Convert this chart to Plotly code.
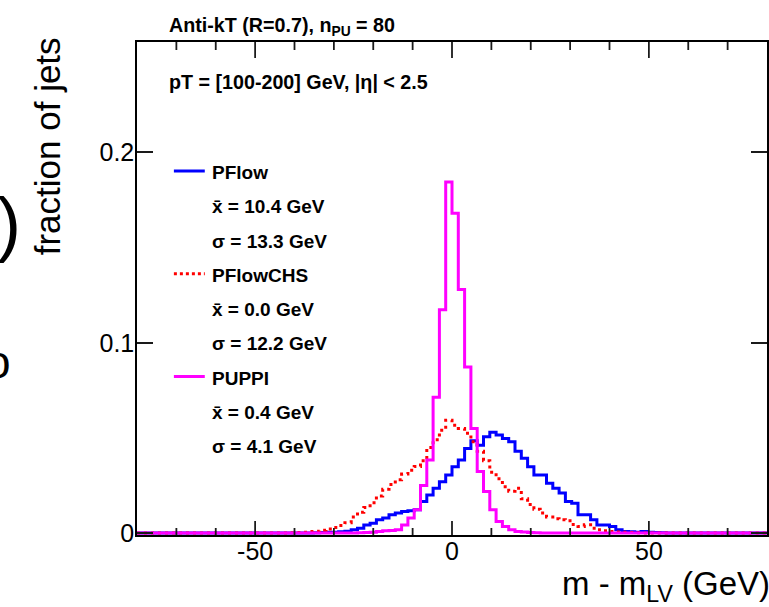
import numpy as np
import plotly.graph_objects as go

# ---------------- data (fraction of jets per 1.6 GeV bin, range -80..80) ----------------
x_lo, x_hi, n_bins = -80.0, 80.0, 100

# index (relative to bin 0 = [0, 1.6]) of the first listed bin, then the values
pflow_first_bin = -22
pflow_vals = [0.0002, 0.0003, 0.0004, 0.0005, 0.0007, 0.0010, 0.0017, 0.0025,
              0.0043, 0.0052, 0.0070, 0.0079, 0.0096, 0.0105, 0.0113, 0.0118, 0.0122,
              0.0166, 0.0200, 0.0236, 0.0270, 0.0305, 0.0349, 0.0384, 0.0445,
              0.0485, 0.0462, 0.0506, 0.0530, 0.0515, 0.0497, 0.0480,
              0.0430, 0.0393, 0.0349, 0.0305, 0.0305, 0.0262, 0.0236, 0.0210, 0.0166, 0.0157,
              0.0096, 0.0096, 0.0070, 0.0043, 0.0043, 0.0035, 0.0017, 0.0009, 0.0007,
              0.0005, 0.0009, 0.0005, 0.0003, 0.0002]

chs_first_bin = -26
chs_vals = [0.0002, 0.0003, 0.0005, 0.0008, 0.0010, 0.0015, 0.0022, 0.0030, 0.0040, 0.0055,
            0.0085, 0.0110, 0.0135, 0.0160, 0.0195, 0.0230, 0.0255, 0.0280, 0.0310, 0.0330,
            0.0350, 0.0380, 0.0450, 0.0490, 0.0540, 0.0593, 0.0567,
            0.0550, 0.0524, 0.0480, 0.0430, 0.0380, 0.0320, 0.0285, 0.0244, 0.0220, 0.0236,
            0.0180, 0.0150, 0.0125, 0.0105, 0.0085, 0.0075, 0.0070, 0.0065, 0.0045, 0.0035,
            0.0044, 0.0026, 0.0017, 0.0012, 0.0009, 0.0006, 0.0004, 0.0003, 0.0002, 0.0001]

puppi_first_bin = -16
puppi_vals = [0.0001, 0.0002, 0.0003, 0.0004, 0.0008, 0.0012, 0.0014, 0.0017,
              0.0043, 0.0079, 0.0122, 0.0250, 0.0384, 0.0714, 0.1174, 0.1845,
              0.1680, 0.1280, 0.0873, 0.0550, 0.0323, 0.0218, 0.0122, 0.0061,
              0.0035, 0.0017, 0.0009, 0.0006, 0.0003, 0.0002, 0.0001]

series_names = ["PFlow", "PFlowCHS", "PUPPI"]
series_means = ["10.4", "0.0", "0.4"]
series_sigmas = ["13.3", "12.2", "4.1"]

x_tick_vals = [-50, 0, 50]
x_tick_text = ["-50", "0", "50"]
x_minor_vals = [-70, -60, -40, -30, -20, -10, 10, 20, 30, 40, 60, 70]
y_tick_vals = [0, 0.1, 0.2]
y_tick_text = ["0", "0.1", "0.2"]
y_minor_vals = [0.02, 0.04, 0.06, 0.08, 0.12, 0.14, 0.16, 0.18, 0.22, 0.24]

# ---------------- helpers ----------------
edges = np.linspace(x_lo, x_hi, n_bins + 1)
y_range = [-0.001, 0.258]


def full_hist(first_bin, vals):
    arr = np.zeros(n_bins)
    start = first_bin + n_bins // 2
    arr[start:start + len(vals)] = vals
    return arr


def step(arr):
    return edges, np.append(arr, arr[-1])


W, H = 769, 607
ML, MR, MT, MB = 137, 0, 42, 72
PW, PH = W - ML - MR, H - MT - MB


def px(x):
    return (x - ML) / PW


def py(y):
    return (H - MB - y) / PH


def x_to_paper(v):
    # linear x axis: data value -> fraction of the plot width
    return (v - x_lo) / (x_hi - x_lo)


FONT = "Liberation Sans, Arial, Helvetica, sans-serif"
colors = ["#0000ff", "#ff0000", "#ff00ff"]
dashes = ["solid", "3px,4px", "solid"]

fig = go.Figure()
for name, (fb, vals), col, dash in zip(
        series_names,
        [(pflow_first_bin, pflow_vals), (chs_first_bin, chs_vals), (puppi_first_bin, puppi_vals)],
        colors, dashes):
    xs, ys = step(full_hist(fb, vals))
    fig.add_trace(go.Scatter(x=xs, y=ys, mode="lines", name=name,
                             line=dict(color=col, width=3, shape="hv", dash=dash),
                             showlegend=False, hoverinfo="skip"))

annotations = []
shapes = []

# header texts
annotations.append(dict(text="<b>Anti-kT (R=0.7), n<sub>PU</sub> = 80</b>", x=px(167), y=py(26),
                        xref="paper", yref="paper", xanchor="left", yanchor="middle",
                        showarrow=False, font=dict(family=FONT, size=19.7, color="black")))
annotations.append(dict(text="<b>pT = [100-200] GeV, |η| &lt; 2.5</b>", x=px(167), y=py(82),
                        xref="paper", yref="paper", xanchor="left", yanchor="middle",
                        showarrow=False, font=dict(family=FONT, size=19.7, color="black")))

# legend-like block
row0, row_step = 172.5, 34.25
for i, name in enumerate(series_names):
    rows = [f"<b>{name}</b>", f"<b>x\u0304 = {series_means[i]} GeV</b>",
            f"<b>σ = {series_sigmas[i]} GeV</b>"]
    for j, t in enumerate(rows):
        yy = row0 + (3 * i + j) * row_step
        annotations.append(dict(text=t, x=px(210), y=py(yy), xref="paper", yref="paper",
                                xanchor="left", yanchor="middle", showarrow=False,
                                font=dict(family=FONT, size=19, color="black")))
    ly = py(row0 - 1.5 + 3 * i * row_step)
    shapes.append(dict(type="line", xref="paper", yref="paper", x0=px(174), x1=px(205),
                       y0=ly, y1=ly, line=dict(color=colors[i], width=3,
                                               dash="dot" if dashes[i] != "solid" else "solid")))

# axis titles
annotations.append(dict(text="fraction of jets", x=px(47), y=py(146), xref="paper", yref="paper",
                        xanchor="center", yanchor="middle", textangle=-90, showarrow=False,
                        font=dict(family=FONT, size=35, color="black")))
annotations.append(dict(text="m - m<sub>LV</sub> (GeV)", x=px(561), y=py(586), xref="paper",
                        yref="paper", xanchor="left", yanchor="middle", showarrow=False,
                        font=dict(family=FONT, size=33, color="black")))

# fragments of the neighbouring panel's text at the left edge
annotations.append(dict(text=")", x=px(-5), y=py(223), xref="paper", yref="paper",
                        xanchor="left", yanchor="middle", showarrow=False,
                        font=dict(family=FONT, size=72, color="black")))
annotations.append(dict(text="o", x=px(-17), y=py(362), xref="paper", yref="paper",
                        xanchor="left", yanchor="middle", showarrow=False,
                        font=dict(family=FONT, size=46, color="black")))

tick_col = "#1a1a1a"

# x-axis tick marks (bottom and mirrored at top), at the axis tick values
for v, lb, lt in [(t, 14, 16) for t in x_tick_vals] + [(t, 7, 8) for t in x_minor_vals]:
    xp = x_to_paper(v)
    for y0, y1 in [(0.0, lb / PH), (1.0, 1.0 - lt / PH)]:
        shapes.append(dict(type="line", xref="paper", yref="paper", x0=xp, x1=xp, y0=y0, y1=y1,
                           line=dict(color=tick_col, width=1.8), layer="above"))

axis_common = dict(showgrid=False, zeroline=False, showline=True, linecolor="black", linewidth=1.5,
                   mirror="ticks", tickcolor=tick_col, tickwidth=1.8,
                   tickfont=dict(family=FONT, size=25, color="black"))
axis_minor = {k: v for k, v in axis_common.items() if k != "tickfont"}

fig.update_layout(
    width=W, height=H, margin=dict(l=ML, r=MR, t=MT, b=MB, pad=0),
    paper_bgcolor="white", plot_bgcolor="white",
    xaxis=dict(range=[x_lo, x_hi], tickmode="array", tickvals=x_tick_vals, ticktext=x_tick_text,
               ticks="", ticklabelstandoff=-7, **axis_common),
    yaxis=dict(range=y_range, tickmode="array", tickvals=y_tick_vals, ticktext=y_tick_text,
               ticks="inside", ticklen=16, ticklabelstandoff=-4, **axis_common),
    # overlay axis that only carries the minor y ticks
    yaxis2=dict(range=y_range, overlaying="y", anchor="x", side="left", ticks="inside",
                tickmode="array", tickvals=y_minor_vals, ticklen=7, showticklabels=False,
                **axis_minor),
    annotations=annotations, shapes=shapes, showlegend=False,
)

fig.write_html("out.html")
